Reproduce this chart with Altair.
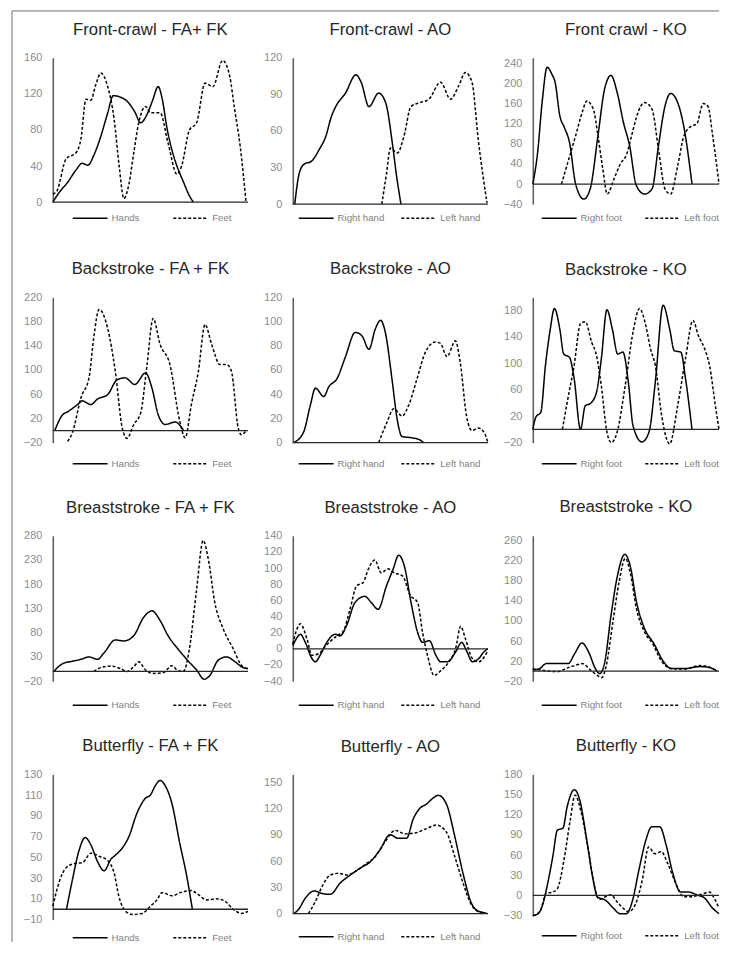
import altair as alt
import pandas as pd

# ---------------- data (x = % of cycle, y = value) ----------------
# Front-crawl FA+FK
fc_fafk_hands_x = [0, 3, 7.6, 12, 15, 18, 21, 24.6, 28, 31, 35, 38, 42, 45, 48, 51, 54, 56, 58.5, 61, 63.6, 67, 70, 72]
fc_fafk_hands_y = [0, 10, 22, 36, 43, 41, 52, 73, 98, 118, 116, 112, 100, 88, 96, 112, 128, 115, 82, 58, 40, 22, 7, 0]
fc_fafk_feet_x = [0, 2, 6.8, 12, 14.4, 17, 19.5, 22, 24.6, 28, 31.4, 34, 36.4, 39, 41.5, 44, 47.5, 50, 55, 59, 63.6, 66, 70, 73.7, 78, 82, 87, 90.7, 93, 96, 99]
fc_fafk_feet_y = [9, 12, 48, 55, 70, 114, 113, 130, 143, 129, 92, 40, 4, 20, 55, 88, 106, 99, 99, 66, 31, 40, 80, 88, 132, 128, 157, 139, 105, 62, 0]
# Front-crawl AO
fc_ao_right_x = [1, 3.4, 6, 9.4, 13.6, 17, 19.6, 22, 27, 32.3, 35, 39, 44, 47.6, 51, 53, 55.4]
fc_ao_right_y = [0, 26, 33, 35, 45, 56, 71, 80, 91, 106, 100, 80, 91, 83, 50, 25, 0]
fc_ao_left_x = [45.6, 48, 50, 53.6, 57, 60.5, 64.6, 69.7, 75.7, 80.8, 85, 88.4, 91.8, 95, 99.5]
fc_ao_left_y = [0, 25, 46, 42, 56, 80, 83, 86, 100, 86, 97, 108, 100, 53, 1]
# Front crawl KO
fc_ko_right_x = [0, 2.6, 5, 7.7, 10.3, 12, 14.5, 17, 19.7, 23, 27.4, 30.8, 35, 38.5, 42, 45.3, 48.7, 52, 55.6, 60, 64, 67.5, 71, 74, 77.8, 81, 85.5]
fc_ko_right_y = [0, 63, 162, 232, 218, 202, 136, 112, 83, 0, -30, -10, 96, 188, 216, 182, 122, 76, -3, -20, -10, 76, 155, 180, 162, 116, 0]
fc_ko_left_x = [15.4, 18.8, 23, 26.5, 29, 32.5, 35, 37.6, 40, 43.6, 47, 50.5, 53, 55.6, 58, 60, 64, 67.5, 71, 74, 77.8, 81.2, 85.5, 88, 91.5, 94, 96.6, 100]
fc_ko_left_y = [0, 43, 96, 142, 165, 149, 96, 30, -20, 10, 40, 60, 95, 132, 155, 162, 149, 69, -10, -20, 36, 96, 116, 119, 160, 155, 96, 0]
# Backstroke FA+FK
bk_fafk_hands_x = [1, 5, 7.6, 12.7, 15, 19.5, 22.9, 28, 33, 37, 42, 47.5, 50.8, 54, 57.6, 62.7, 67]
bk_fafk_hands_y = [0, 26, 31, 43, 49, 43, 52, 59, 84, 87, 76, 95, 70, 26, 10, 14, 0]
bk_fafk_feet_x = [7.6, 10, 14.4, 18.6, 21, 23.7, 28, 32, 35.6, 38, 41.5, 45, 48.3, 51.4, 55, 60, 65, 67.8, 71, 74.6, 78, 81.4, 85.6, 89, 91.5, 95, 96.6, 99]
bk_fafk_feet_y = [-18, -4, 54, 88, 154, 200, 170, 98, 4, -13, 10, 29, 109, 185, 142, 109, 16, -12, 43, 98, 175, 142, 109, 109, 98, 4, -7, 0]
# Backstroke AO
bk_ao_right_x = [0.5, 5.6, 9, 11.6, 15.9, 18.4, 22.7, 27, 32, 35.5, 39, 42.3, 45, 47.4, 51, 53.4, 56, 61, 65.4, 67]
bk_ao_right_y = [0, 9, 31, 45, 38, 46, 53, 71, 91, 88, 77, 94, 101, 91, 50, 20, 5, 4, 2, 0]
bk_ao_left_x = [44, 48.3, 51.7, 56, 59.4, 63.7, 68, 73, 75.6, 79, 83.3, 85.8, 89, 91.8, 95, 97.8, 100]
bk_ao_left_y = [0, 17, 28, 22, 31, 53, 75, 83, 82, 71, 84, 66, 22, 10, 12, 9, 0]
# Backstroke KO
bk_ko_right_x = [0, 1.7, 4.3, 6.8, 9.4, 11.6, 14.5, 16.6, 19.7, 22.2, 25.6, 28.2, 30.8, 34.2, 36.8, 39.8, 42.7, 45.6, 48.4, 51.3, 53.8, 58.6, 62.4, 65.8, 70, 73.5, 76, 79.5, 82, 85.5]
bk_ko_right_y = [0, 19, 26, 97, 152, 183, 152, 114, 109, 77, 0, 36, 39, 56, 107, 181, 152, 114, 117, 72, 6, -19, -4, 72, 188, 152, 119, 117, 77, 0]
bk_ko_left_x = [15.9, 18.8, 22.2, 25.6, 28.2, 31.6, 34.2, 36.8, 39.8, 42.2, 45.3, 49.6, 53.8, 57.3, 60.7, 63.2, 65.8, 69.2, 73.5, 77.8, 82, 86, 88.9, 92.3, 94.9, 98.3, 100]
bk_ko_left_y = [0, 46, 97, 160, 163, 132, 112, 66, -4, -20, -4, 66, 147, 183, 157, 122, 97, 21, -22, 36, 107, 165, 142, 122, 97, 31, 0]
# Breaststroke FA+FK
br_fafk_hands_x = [0.5, 5, 10, 14.4, 18.6, 22.9, 26, 32, 36.4, 41.5, 46.6, 50.8, 55, 59, 64, 69.5, 73.7, 77.5, 80.5, 84.7, 89, 93, 97.5, 100]
br_fafk_hands_y = [0, 16, 21, 25, 30, 25, 37, 65, 63, 74, 112, 125, 105, 74, 47, 21, 3, -16, -8, 23, 30, 21, 8, 6]
br_fafk_feet_x = [21, 24.6, 29.7, 34.7, 38, 41.5, 44, 47.5, 51.7, 56.8, 61, 64.4, 67, 70, 73.7, 77, 79.7, 83, 87.3, 92.4, 96.6, 100]
br_fafk_feet_y = [0, 8, 11, 6, 0, 10, 20, 3, -4, -2, 12, 1, 1, 47, 170, 270, 231, 142, 88, 47, 13, 5]
# Breaststroke AO
br_ao_right_x = [0, 2.2, 3.9, 6.4, 9.8, 11.5, 14, 17.4, 21.7, 24.2, 27.6, 31.8, 36.9, 40.3, 43.7, 48, 51.3, 54.3, 57.2, 60.6, 64, 66.5, 70, 73.3, 75.8, 79.2, 83.4, 86.5, 89.3, 92, 95.3, 97.8, 100]
br_ao_right_y = [4, 14, 18, 8, -12, -16, -8, 8, 18, 16, 29, 57, 65, 57, 49, 78, 98, 116, 102, 57, 20, 8, 10, -8, -16, -16, -4, 8, -4, -16, -12, -4, 0]
br_ao_left_x = [0, 2.2, 3.9, 7.3, 9.8, 13.2, 17.4, 22.5, 25.9, 29.3, 32.7, 36, 38.6, 42, 45.3, 48.7, 52, 56.3, 60, 64, 66.5, 69, 72.4, 75.8, 80, 83.4, 86, 88.5, 92, 95.3, 98.6, 100]
br_ao_left_y = [6, 25, 31, 12, -8, -6, 5, 16, 22, 49, 78, 82, 98, 110, 94, 99, 94, 90, 67, 57, 20, -8, -33, -27, -16, 0, 28, 12, -12, -16, -8, -2]
# Breaststroke KO
br_ko_right_x = [0, 3.7, 7.2, 11.4, 19, 22.5, 26.4, 30, 33.6, 36, 38.7, 42, 45.5, 49.4, 52.3, 55.7, 60, 65, 70.2, 74.4, 81.3, 89.8, 95, 99]
br_ko_right_y = [2, 5, 15, 15, 15, 35, 56, 38, 5, -5, 19, 111, 191, 233, 210, 138, 85, 55, 19, 5, 5, 9, 7, 0]
br_ko_left_x = [0, 4.6, 13, 19, 23.3, 26.7, 31, 34.4, 37, 39.5, 43, 46.3, 49.7, 52.3, 55.7, 60, 64.3, 69.3, 74.4, 81.3, 89.8, 94, 99]
br_ko_left_y = [5, 2, -1, 7, 12, 15, 2, -8, -13, 12, 98, 177, 225, 197, 124, 78, 55, 19, 5, 4, 11, 9, 0]
# Butterfly FA+FK
bf_fafk_hands_x = [7, 10, 13.5, 16.6, 19.5, 22.9, 26.3, 29.7, 32, 35.6, 39, 43, 47.5, 50, 52.5, 55, 57.6, 61, 65, 68.6, 71.5]
bf_fafk_hands_y = [0, 28, 57, 69, 62, 46, 37, 48, 52, 59, 70, 92, 107, 110, 119, 124, 119, 102, 64, 32, 0]
bf_fafk_feet_x = [0, 3.4, 6.8, 11, 15.3, 19.5, 23.7, 28, 31.4, 33.9, 37.3, 40.7, 45.8, 50, 53.4, 55.9, 61, 65.3, 71, 74.6, 78.8, 84, 88, 92.4, 96.6, 100]
bf_fafk_feet_y = [3, 27, 40, 44, 45, 54, 51, 47, 35, 12, -2, -5, -4, 3, 9, 16, 13, 16, 18, 14, 9, 10, 8, 0, -4, -2]
# Butterfly AO
bf_ao_right_x = [0.5, 3, 6.5, 11, 15, 19.2, 24.3, 29.4, 34.5, 39.6, 44.7, 49.8, 54, 58.3, 61.7, 65, 68.5, 72, 74.5, 78.7, 83, 87.2, 91.5, 95, 98.3, 100]
bf_ao_right_y = [0, 5, 18, 26, 23, 22, 35, 44, 52, 59, 73, 90, 86, 86, 108, 120, 125, 132, 135, 125, 88, 46, 12, 3, 1, 0]
bf_ao_left_x = [8, 11.6, 15, 19.2, 23.5, 27.7, 32, 37, 42.2, 47.3, 52.4, 57.5, 62.6, 68.5, 73.6, 78.7, 83, 87.2, 91.5, 95, 97.4]
bf_ao_left_y = [0, 14, 31, 44, 46, 44, 48, 56, 65, 82, 95, 91, 92, 97, 101, 93, 65, 35, 10, 2, 0]
# Butterfly KO
bf_ko_right_x = [0, 2.9, 5.5, 8, 10.7, 13.2, 16.2, 18.4, 22.3, 25.3, 28.7, 32.1, 34.7, 39, 43.3, 46.7, 50.2, 53.6, 57, 60.5, 63.9, 68.2, 71.6, 75, 79.4, 83.7, 88, 92.3, 96.6, 100]
bf_ko_right_y = [-30, -27, -12, 18, 57, 97, 100, 131, 157, 141, 87, 28, -2, -7, -19, -27, -27, -7, 38, 80, 102, 102, 75, 35, 5, 5, 1, -4, -19, -27]
bf_ko_left_x = [0, 3.8, 7.2, 10.7, 13.2, 16.7, 20.1, 22.7, 26.1, 29.6, 33, 35.6, 39, 42, 45.1, 48.5, 51.5, 55.3, 58.8, 62.2, 65.6, 69, 72.5, 76.8, 81.1, 84.5, 89.7, 94.8, 97.4, 100]
bf_ko_left_y = [-30, -24, 3, 5, 10, 52, 112, 149, 122, 72, 15, -6, -2, 1, -9, -19, -24, -12, 23, 72, 62, 65, 47, 18, -2, -2, 1, 5, -4, -19]

titles = ["Front-crawl - FA+ FK", "Front-crawl - AO", "Front crawl - KO",
          "Backstroke - FA + FK", "Backstroke - AO", "Backstroke - KO",
          "Breaststroke - FA + FK", "Breaststroke - AO", "Breaststroke - KO",
          "Butterfly - FA + FK", "Butterfly - AO", "Butterfly - KO"]
names_fafk = ["Hands", "Feet"]
names_ao = ["Right hand", "Left hand"]
names_ko = ["Right foot", "Left foot"]

y_domains = [[0, 160], [0, 120], [-40, 251],
             [-20, 220], [0, 120], [-20, 200],
             [-20, 280], [-40, 140], [-20, 270],
             [-10, 130], [0, 159], [-30, 180]]
y_ticks = [[0, 40, 80, 120, 160], [0, 30, 60, 90, 120], [-40, 0, 40, 80, 120, 160, 200, 240],
           [-20, 20, 60, 100, 140, 180, 220], [0, 20, 40, 60, 80, 100, 120], [-20, 20, 60, 100, 140, 180],
           [-20, 30, 80, 130, 180, 230, 280], [-40, -20, 0, 20, 40, 60, 80, 100, 120, 140], [-20, 20, 60, 100, 140, 180, 220, 260],
           [-10, 10, 30, 50, 70, 90, 110, 130], [0, 30, 60, 90, 120, 150], [-30, 0, 30, 60, 90, 120, 150, 180]]

series = [
    ((fc_fafk_hands_x, fc_fafk_hands_y), (fc_fafk_feet_x, fc_fafk_feet_y)),
    ((fc_ao_right_x, fc_ao_right_y), (fc_ao_left_x, fc_ao_left_y)),
    ((fc_ko_right_x, fc_ko_right_y), (fc_ko_left_x, fc_ko_left_y)),
    ((bk_fafk_hands_x, bk_fafk_hands_y), (bk_fafk_feet_x, bk_fafk_feet_y)),
    ((bk_ao_right_x, bk_ao_right_y), (bk_ao_left_x, bk_ao_left_y)),
    ((bk_ko_right_x, bk_ko_right_y), (bk_ko_left_x, bk_ko_left_y)),
    ((br_fafk_hands_x, br_fafk_hands_y), (br_fafk_feet_x, br_fafk_feet_y)),
    ((br_ao_right_x, br_ao_right_y), (br_ao_left_x, br_ao_left_y)),
    ((br_ko_right_x, br_ko_right_y), (br_ko_left_x, br_ko_left_y)),
    ((bf_fafk_hands_x, bf_fafk_hands_y), (bf_fafk_feet_x, bf_fafk_feet_y)),
    ((bf_ao_right_x, bf_ao_right_y), (bf_ao_left_x, bf_ao_left_y)),
    ((bf_ko_right_x, bf_ko_right_y), (bf_ko_left_x, bf_ko_left_y)),
]

# ---------------- layout / style ----------------
FONT = "Liberation Sans"
widths = [196, 196, 187] * 4
heights = [145, 147, 147, 146, 146, 146, 146, 146, 146, 146, 140, 142]
# legend top offsets (pixels below each plot's top edge)
legend_y = [155, 155, 155, 161, 161, 161, 164, 164, 164, 158, 157, 156]
title_off = [-28.5, 13.5, 19, 13.5, 13.5, 19, 13.5, 13.5, 19, 13.5, 19, 13.5]
legend_x = {0: 19, 1: 5, 2: 8}
col_pad = {0: 30, 1: 14, 2: 20}

# outer frame edges (top and left), relative to the first panel's plot area
FX, FY, FX2, FY2 = -41, -47, 669, 888
BORDER = "#6e6e6e"


def panel(i):
    kind = i % 3
    names = [names_fafk, names_ao, names_ko][kind]
    rows = []
    for name, (xs, ys) in zip(names, series[i]):
        for k, (xv, yv) in enumerate(zip(xs, ys)):
            rows.append({"series": name, "x": xv, "y": yv, "k": k})
    df = pd.DataFrame(rows)
    yscale = alt.Scale(domain=y_domains[i], nice=False, zero=False)
    xscale = alt.Scale(domain=[0, 100], nice=False, zero=False)
    yaxis = alt.Axis(values=y_ticks[i], ticks=False, tickSize=0, grid=False,
                     domainColor="#595959", domainWidth=1.5,
                     labelColor="#8c8c8c", labelFont=FONT, labelFontSize=11,
                     labelPadding=11, labelFlush=False, labelOverlap=False,
                     title=None)
    lines = alt.Chart(df).mark_line(
        color="black", strokeWidth=1.5, interpolate="monotone"
    ).encode(
        x=alt.X("x:Q", scale=xscale, axis=None),
        y=alt.Y("y:Q", scale=yscale, axis=yaxis),
        strokeDash=alt.StrokeDash("series:N",
            scale=alt.Scale(domain=names, range=[[1, 0], [3, 2]]),
            legend=alt.Legend(title=None, orient="none",
                              legendX=legend_x[kind], legendY=legend_y[i],
                              direction="horizontal",
                              symbolType="M-3.5,0H3.5", symbolSize=100,
                              symbolOffset=12.5, symbolStrokeWidth=1.5,
                              symbolStrokeColor="black",
                              labelFont=FONT, labelFontSize=9.7,
                              labelColor="#7f7f7f", labelOffset=15.5,
                              columnPadding=col_pad[kind], padding=0)),
        order="k:Q",
    )
    zero = alt.Chart(pd.DataFrame({"z": [0]})).mark_rule(
        color="#262626", strokeWidth=1.3).encode(
        y=alt.Y("z:Q", scale=yscale, axis=yaxis))
    layers = [lines, zero]
    if i == 0:
        one = pd.DataFrame({"f": [0]})
        top_edge = alt.Chart(one).mark_rule(color=BORDER, strokeWidth=1).encode(
            x=alt.value(FX), x2=alt.value(FX2), y=alt.value(FY))
        left_edge = alt.Chart(one).mark_rule(color=BORDER, strokeWidth=1).encode(
            x=alt.value(FX), y=alt.value(FY), y2=alt.value(FY2))
        layers = layers + [top_edge, left_edge]
    return alt.layer(*layers).properties(
        width=widths[i], height=heights[i],
        title=alt.TitleParams(titles[i], fontSize=16.8, font=FONT,
                              fontWeight="normal", color="#262626",
                              anchor="middle", frame="group",
                              offset=title_off[i]))


chart = alt.concat(*[panel(i) for i in range(12)], columns=3,
                   spacing={"row": 93.5, "column": 45}, bounds="flush",
                   align="each").resolve_scale(
    strokeDash="independent", y="independent", x="independent"
).properties(
    padding={"left": 3, "top": 0, "right": 0, "bottom": 0},
    background="white"
).configure_view(strokeWidth=0, stroke="transparent")

chart.save("out.html", embed_options={"renderer": "svg", "actions": False})
